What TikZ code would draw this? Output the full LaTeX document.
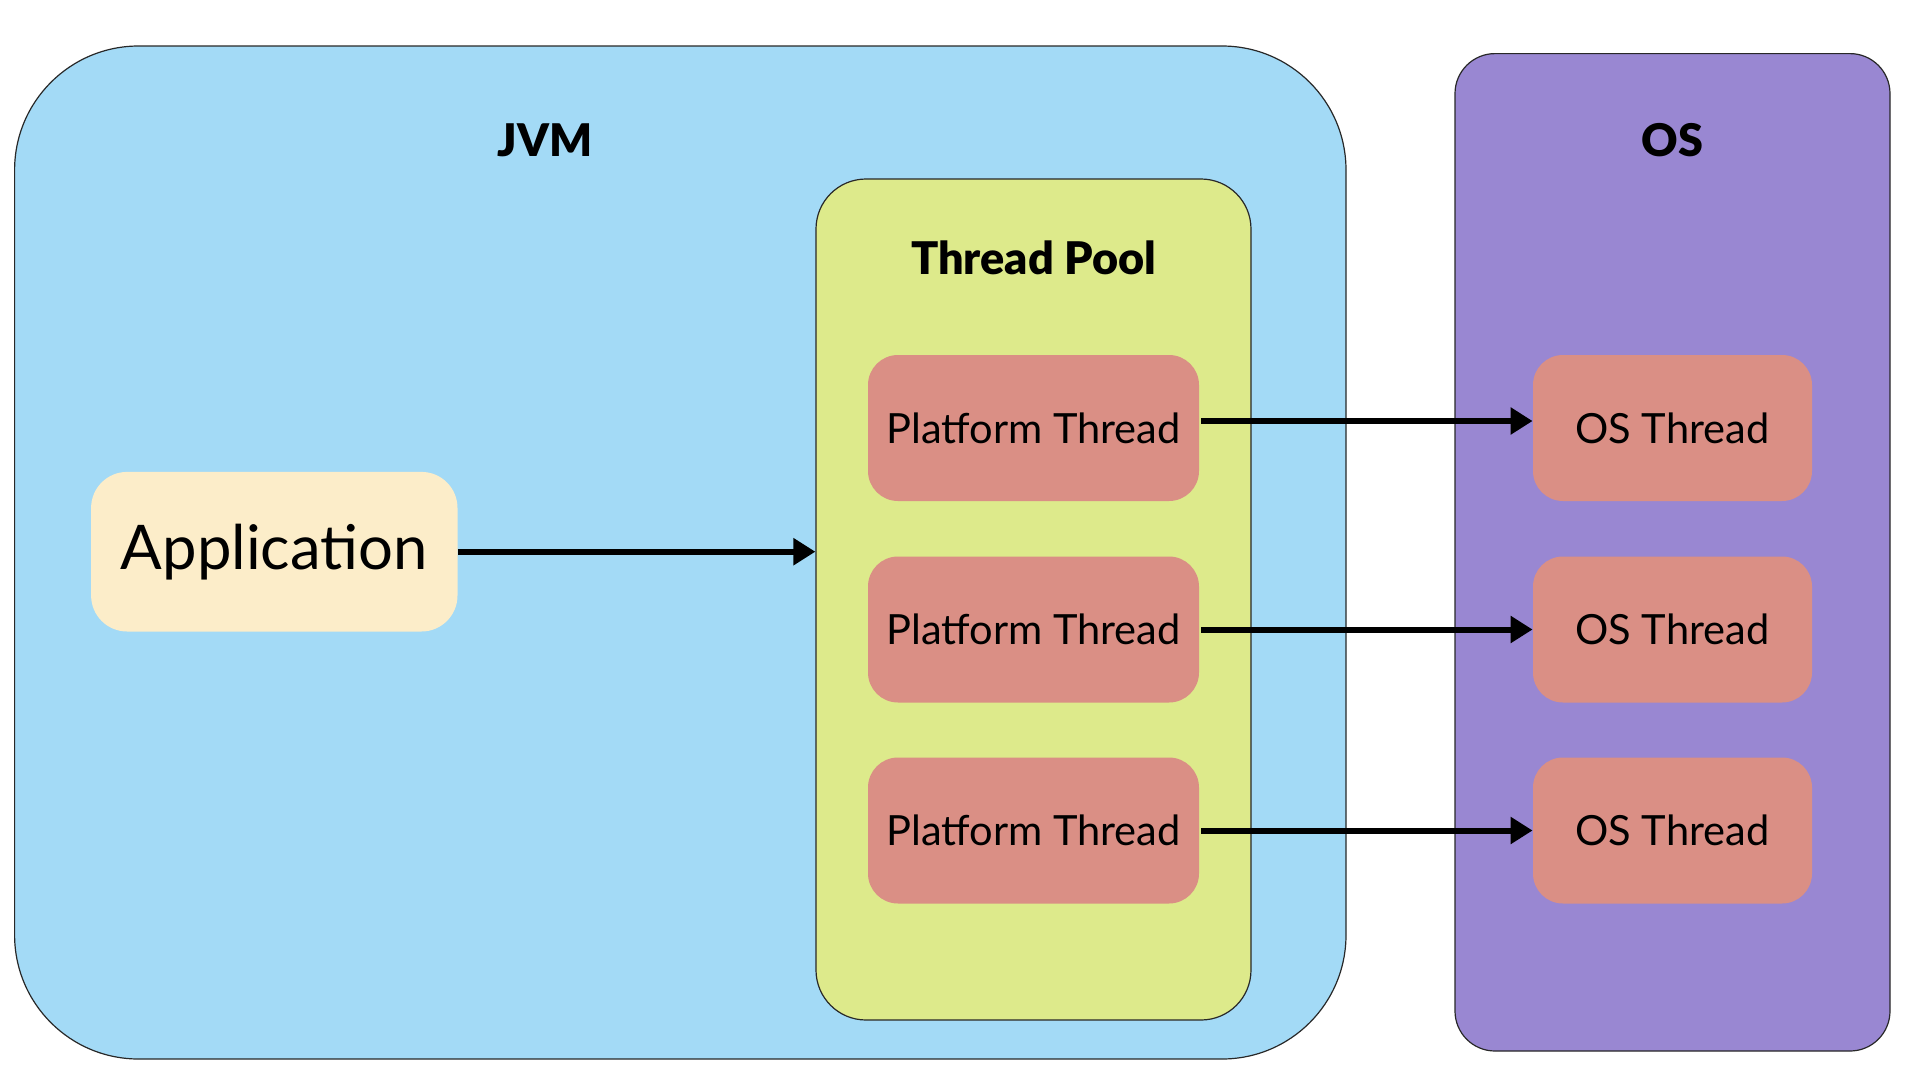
\documentclass[tikz,border=0pt]{standalone}
\usepackage{fontspec}
\setmainfont{Lato}
\newfontfamily\heavyfont{Lato Black}
\usetikzlibrary{arrows.meta}
\definecolor{jvmblue}{RGB}{163,218,246}
\definecolor{poolgreen}{RGB}{221,234,139}
\definecolor{ospurple}{RGB}{153,135,210}
\definecolor{thredred}{RGB}{218,143,133}
\definecolor{appcream}{RGB}{252,237,201}
\definecolor{edgegray}{RGB}{40,40,40}
\tikzset{
  container/.style={draw=edgegray, line width=0.6pt},
  thrbox/.style={fill=thredred, rounded corners=15pt, minimum height=73pt, font=\fontsize{20.8}{24}\selectfont, inner sep=0pt},
  titletext/.style={font=\fontsize{22.5}{26}\heavyfont},
  conn/.style={line width=3pt, -{Triangle[length=11pt,width=13pt]}}
}
\begin{document}
\begin{tikzpicture}[x=0.5pt,y=-0.5pt]
\useasboundingbox (0,0) rectangle (1908,1072);
\fill[white] (0,0) rectangle (1908,1072);
% containers
\node[container, fill=jvmblue, rounded corners=62pt, minimum width=665.7pt, minimum height=506.5pt] (jvm) at (680.3,552.5) {};
\node[container, fill=ospurple, rounded corners=20pt, minimum width=217.5pt, minimum height=498.7pt] (os) at (1672.5,552.3) {};
\node[container, fill=poolgreen, rounded corners=25pt, minimum width=217.5pt, minimum height=420.5pt] (pool) at (1033.5,599.5) {};
% titles
\node[titletext] (jvmtitle) at (545,140) {JVM};
\node[titletext] (ostitle) at (1672.5,140) {OS};
\node[titletext] (pooltitle) at (1033.5,258) {Thread Pool};
% application
\node[fill=appcream, rounded corners=18pt, minimum width=183.2pt, minimum height=79.8pt, font=\fontsize{30.8}{36}\selectfont] (app) at (274.3,551.7) {Application};
% threads
\node[thrbox, minimum width=165.5pt] (p1) at (1033.5,428) {Platform Thread};
\node[thrbox, minimum width=165.5pt] (p2) at (1033.5,629.5) {Platform Thread};
\node[thrbox, minimum width=165.5pt] (p3) at (1033.5,830.5) {Platform Thread};
\node[thrbox, minimum width=139.5pt] (o1) at (1672.5,428) {OS Thread};
\node[thrbox, minimum width=139.5pt] (o2) at (1672.5,629.5) {OS Thread};
\node[thrbox, minimum width=139.5pt] (o3) at (1672.5,830.5) {OS Thread};
% connectors
\draw[conn] (app.east) -- (app.east -| pool.west);
\draw[conn] ([xshift=1pt,yshift=3.5pt]p1.east) -- ([yshift=3.5pt]o1.west);
\draw[conn] ([xshift=1pt]p2.east) -- (o2.west);
\draw[conn] ([xshift=1pt]p3.east) -- (o3.west);
\end{tikzpicture}
\end{document}
